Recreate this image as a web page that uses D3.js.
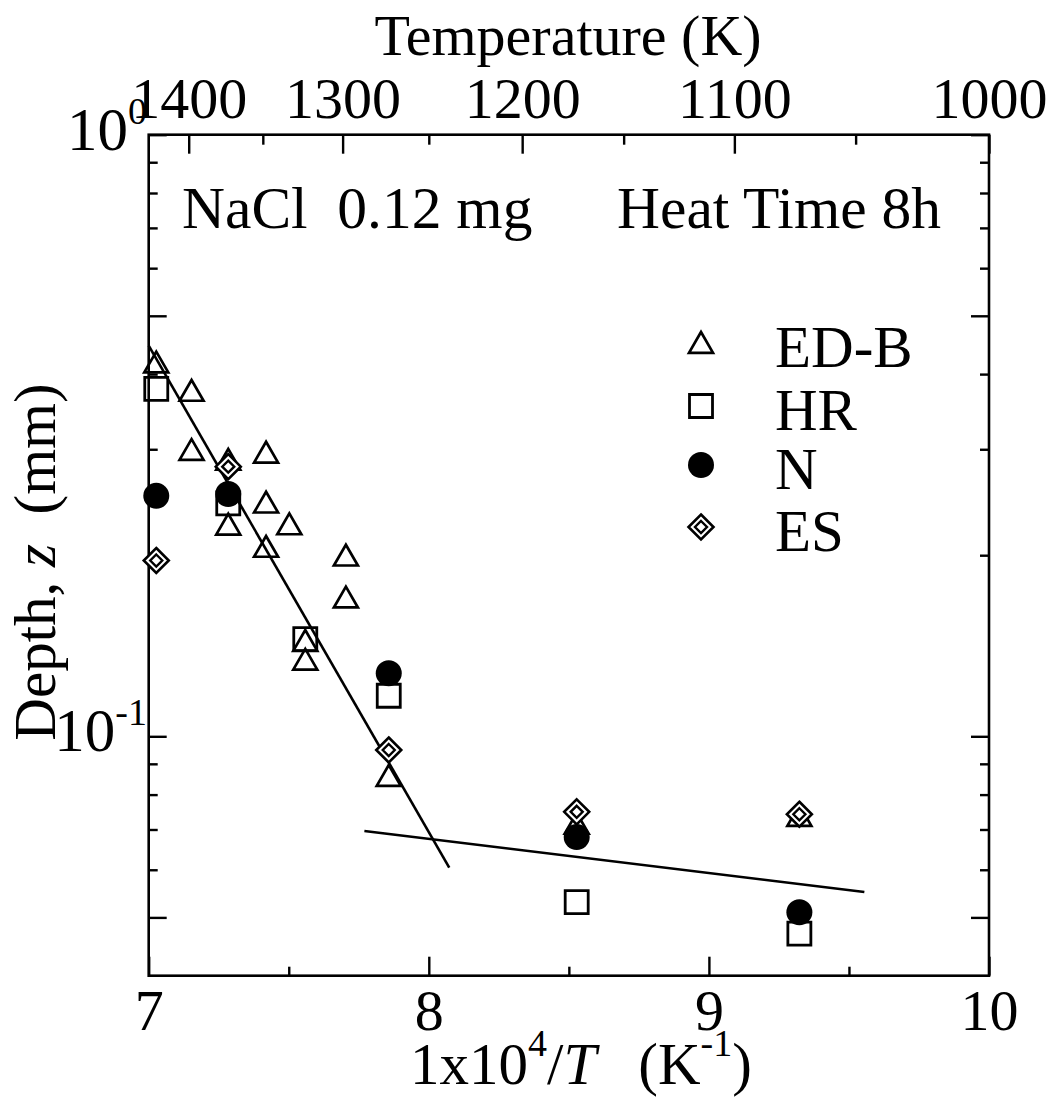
<!DOCTYPE html>
<html>
<head>
<meta charset="utf-8">
<script src="https://cdn.jsdelivr.net/npm/d3@7"></script>
<style>
  body { margin: 0; background: #fff; }
  text { font-family: "Liberation Serif", "Times New Roman", serif; fill: #000; }
</style>
</head>
<body>
<svg id="chart" width="1055" height="1100"></svg>
<script>
// Penetration depth (mm) against reciprocal temperature (1e4/T, K^-1)
const edbX = [7.027, 7.153, 7.153, 7.284, 7.284, 7.419, 7.419, 7.419, 7.502, 7.559, 7.559, 7.704, 7.704, 7.857, 8.528, 9.323];
const edbZ = [0.418, 0.375, 0.299, 0.288, 0.2247, 0.296, 0.2445, 0.2064, 0.225, 0.144, 0.134, 0.1996, 0.170, 0.0859, 0.0715, 0.0737];

const hrX = [7.027, 7.284, 7.559, 7.857, 8.528, 9.323];
const hrZ = [0.378, 0.2439, 0.145, 0.1168, 0.0530, 0.0470];

const nX = [7.027, 7.284, 7.857, 8.528, 9.323];
const nZ = [0.251, 0.2528, 0.1273, 0.0680, 0.0510];

const esX = [7.027, 7.284, 7.857, 8.528, 9.323];
const esZ = [0.196, 0.2807, 0.0949, 0.0749, 0.0742];

// Fitted trend lines (end points)
const fitHighX = [7.0, 8.073];
const fitHighZ = [0.446, 0.0605];
const fitLowX = [7.770, 9.555];
const fitLowZ = [0.0696, 0.0551];

// Axis ticks
const xMajor = [7, 8, 9, 10];
const xMinor = [7.5, 8.5, 9.5];
const tempMajor = [1400, 1300, 1200, 1100, 1000];
const tempMinor = [1350, 1250, 1150, 1050];
const yLong = [0.05, 0.1, 0.5, 1];
const yShort = [0.06, 0.07, 0.08, 0.09, 0.2, 0.3, 0.4, 0.6, 0.7, 0.8, 0.9];
const yLabels = [{ v: 1, exp: "0" }, { v: 0.1, exp: "-1" }];

const seriesNames = ["ED-B", "HR", "N", "ES"];

const svg = d3.select("#chart");
const L = 148.7, R = 989, T = 134.7, B = 975.7;
const FS = 58;

const x = d3.scaleLinear().domain([7, 10]).range([L, R]);
const y = d3.scaleLog().domain([0.04, 1]).range([B, T]);

function styleAxis(g, withText) {
  g.select(".domain").remove();
  g.attr("font-family", null).attr("font-size", null);
  g.selectAll(".tick line").attr("stroke", "#000").attr("stroke-width", 2.4);
  if (withText) g.selectAll(".tick text").attr("font-size", FS).attr("fill", "#000");
  else g.selectAll(".tick text").remove();
}

// bottom axis: 1e4/T
svg.append("g").attr("transform", `translate(0,${B})`)
  .call(d3.axisBottom(x).tickValues(xMajor).tickSize(-19).tickPadding(13).tickFormat(d3.format("d")))
  .call(g => styleAxis(g, true));
svg.append("g").attr("transform", `translate(0,${B})`)
  .call(d3.axisBottom(x).tickValues(xMinor).tickSize(-9))
  .call(g => styleAxis(g, false));

// top axis: temperature in K
svg.append("g").attr("transform", `translate(0,${T})`)
  .call(d3.axisTop(x).tickValues(tempMajor.map(t => 1e4 / t)).tickSize(-19).tickPadding(17)
    .tickFormat((v, i) => tempMajor[i]))
  .call(g => styleAxis(g, true));
svg.append("g").attr("transform", `translate(0,${T})`)
  .call(d3.axisTop(x).tickValues(tempMinor.map(t => 1e4 / t)).tickSize(-10))
  .call(g => styleAxis(g, false));

// left and right log axes
svg.append("g").attr("transform", `translate(${L},0)`)
  .call(d3.axisLeft(y).tickValues(yLong).tickSize(-18))
  .call(g => styleAxis(g, false));
svg.append("g").attr("transform", `translate(${L},0)`)
  .call(d3.axisLeft(y).tickValues(yShort).tickSize(-9))
  .call(g => styleAxis(g, false));
svg.append("g").attr("transform", `translate(${R},0)`)
  .call(d3.axisRight(y).tickValues(yLong).tickSize(-18))
  .call(g => styleAxis(g, false));
svg.append("g").attr("transform", `translate(${R},0)`)
  .call(d3.axisRight(y).tickValues(yShort).tickSize(-9))
  .call(g => styleAxis(g, false));

// decade labels 10^n
yLabels.forEach(d => {
  const t = svg.append("text").attr("x", 147).attr("y", y(d.v) + 15)
    .attr("text-anchor", "end").attr("font-size", 61);
  t.append("tspan").text("10");
  t.append("tspan").attr("font-size", 38).attr("dy", -26).text(d.exp);
});

// plot frame
svg.append("rect").attr("x", L).attr("y", T).attr("width", R - L).attr("height", B - T)
  .attr("fill", "none").attr("stroke", "#000").attr("stroke-width", 2.6);

// axis titles
svg.append("text").attr("x", 568).attr("y", 55).attr("text-anchor", "middle")
  .attr("font-size", FS).text("Temperature (K)");

const xt = svg.append("text").attr("x", 410).attr("y", 1084).attr("font-size", 59);
xt.append("tspan").text("1x10");
xt.append("tspan").attr("font-size", 38).attr("dy", -28).text("4");
xt.append("tspan").attr("dy", 28).text("/");
xt.append("tspan").attr("font-style", "italic").text("T");
xt.append("tspan").attr("dx", 42).text("(K");
xt.append("tspan").attr("font-size", 38).attr("dy", -28).text("-1");
xt.append("tspan").attr("dy", 28).text(")");

const yt = svg.append("text").attr("transform", "translate(55,562) rotate(-90)")
  .attr("text-anchor", "middle").attr("font-size", 59);
yt.append("tspan").text("Depth,\u00a0");
yt.append("tspan").attr("font-style", "italic").text("z");
yt.append("tspan").text("\u00a0\u00a0(mm)");

// annotations
svg.append("text").attr("x", 182).attr("y", 228).attr("font-size", 59.5).text("NaCl\u00a0\u00a00.12 mg");
svg.append("text").attr("x", 617).attr("y", 228).attr("font-size", 59.5).text("Heat Time 8h");

// fitted lines
const line = d3.line().x(d => x(d[0])).y(d => y(d[1]));
[[fitHighX, fitHighZ], [fitLowX, fitLowZ]].forEach(([xs, zs]) => {
  svg.append("path").datum(xs.map((v, i) => [v, zs[i]])).attr("d", line)
    .attr("fill", "none").attr("stroke", "#000").attr("stroke-width", 2.6);
});

// marker shapes
const triPath = "M0,-11L12,9.8L-12,9.8Z";
const sqPath = "M-11.5,-11.5H11.5V11.5H-11.5Z";
const dOuter = "M0,-12.5L12.5,0L0,12.5L-12.5,0Z";
const dInner = "M0,-6L6,0L0,6L-6,0Z";

function drawMarker(g, kind) {
  if (kind === 0) {
    g.append("path").attr("d", triPath).attr("fill", "none").attr("stroke", "#000")
      .attr("stroke-width", 2.7).attr("stroke-linejoin", "miter");
  } else if (kind === 1) {
    g.append("path").attr("d", sqPath).attr("fill", "none").attr("stroke", "#000").attr("stroke-width", 2.8);
  } else if (kind === 2) {
    g.append("circle").attr("r", 13).attr("fill", "#000");
  } else {
    g.append("path").attr("d", dOuter).attr("fill", "#fff").attr("stroke", "#000").attr("stroke-width", 2.6);
    g.append("path").attr("d", dInner).attr("fill", "none").attr("stroke", "#000").attr("stroke-width", 2.4);
  }
}

function plotSeries(xs, zs, kind) {
  xs.forEach((v, i) => {
    const g = svg.append("g").attr("transform", `translate(${x(v)},${y(zs[i])})`);
    drawMarker(g, kind);
  });
}

plotSeries(hrX, hrZ, 1);
plotSeries(edbX, edbZ, 0);
plotSeries(nX, nZ, 2);
plotSeries(esX, esZ, 3);

// legend
const legendY = [343, 406, 465, 527];
seriesNames.forEach((name, i) => {
  const g = svg.append("g").attr("transform", `translate(701,${legendY[i]})`);
  drawMarker(g, i);
  svg.append("text").attr("x", 775).attr("y", legendY[i] + 24).attr("font-size", 59).text(name);
});
</script>
</body>
</html>
